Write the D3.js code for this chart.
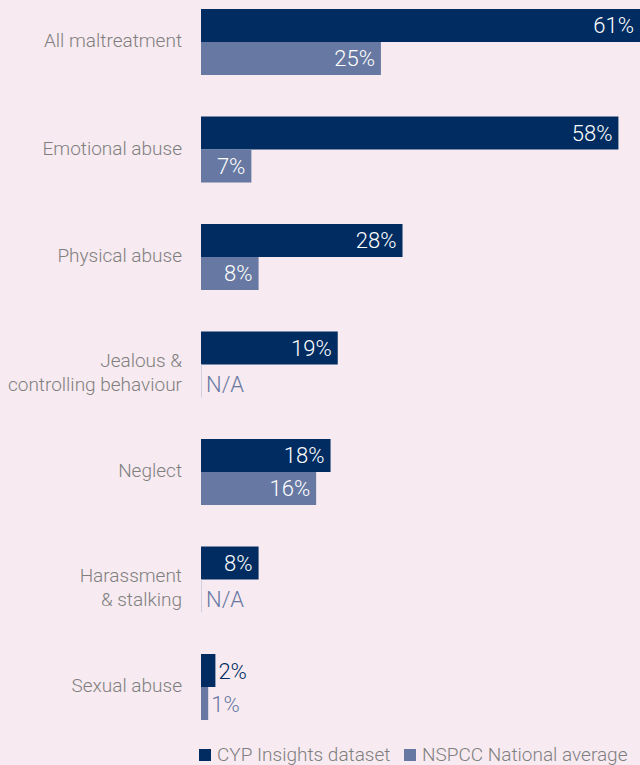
<!DOCTYPE html>
<html><head><meta charset="utf-8">
<script src="https://cdn.jsdelivr.net/npm/d3@7"></script>
<style>
html,body{margin:0;padding:0;background:#f7eaf0;}
svg{display:block;}
</style></head>
<body>
<script>
const categories = ["All maltreatment","Emotional abuse","Physical abuse","Jealous & controlling behaviour","Neglect","Harassment & stalking","Sexual abuse"];
const categoryLines = [["All maltreatment"],["Emotional abuse"],["Physical abuse"],["Jealous &","controlling behaviour"],["Neglect"],["Harassment","& stalking"],["Sexual abuse"]];
const cypValues = [61,58,28,19,18,8,2];
const nspccValues = [25,7,8,null,16,null,1];
const seriesNames = ["CYP Insights dataset","NSPCC National average"];
const colors = ["#002c61","#6779a2"];

const W=640,H=765;
const font = "Roboto,'Liberation Sans',sans-serif";
const svg=d3.select("body").append("svg").attr("width",W).attr("height",H);
svg.append("rect").attr("width",W).attr("height",H).attr("fill","#f7eaf0");

const x=d3.scaleLinear().domain([0,61]).range([201,640]);
const y=d3.scaleBand().domain(categories).range([9,720]).paddingInner(41.5/107.5).paddingOuter(0);
const inner=d3.scaleBand().domain([0,1]).range([0,y.bandwidth()]);

const g=svg.append("g");
categories.forEach((c,i)=>{
  const y0=y(c);
  const vals=[cypValues[i],nspccValues[i]];
  vals.forEach((v,j)=>{
    const by=y0+inner(j), bh=inner.bandwidth();
    if(v==null){
      g.append("line").attr("x1",x(0)+0.5).attr("x2",x(0)+0.5).attr("y1",by).attr("y2",by+bh)
        .attr("stroke","#cfd0e0").attr("stroke-width",1);
      g.append("text").attr("x",x(0)+5).attr("y",by+bh/2+3).attr("dy","0.36em")
        .attr("font-family",font).attr("font-weight",300).attr("font-size",22).attr("fill",colors[1]).text("N/A");
      return;
    }
    g.append("rect").attr("x",x(0)).attr("y",by).attr("width",x(v)-x(0)).attr("height",bh).attr("fill",colors[j]);
    const w=x(v)-x(0);
    const lab=v+"%";
    if(w>40){
      g.append("text").attr("x",x(v)-6).attr("y",by+bh/2).attr("dy","0.36em").attr("text-anchor","end")
        .attr("font-family",font).attr("font-weight",300).attr("font-size",22).attr("fill","#ffffff").text(lab);
    } else {
      g.append("text").attr("x",x(v)+3).attr("y",by+bh/2+1).attr("dy","0.36em")
        .attr("font-family",font).attr("font-weight",300).attr("font-size",22).attr("fill",colors[j]).text(lab);
    }
  });
  const lines=categoryLines[i];
  const cy=y0+y.bandwidth()/2;
  const offs = lines.length===1 ? [-1.5] : [-4.5,19.5];
  lines.forEach((l,k)=>{
    g.append("text").attr("x",182).attr("y",cy+offs[k]).attr("dy","0.36em")
      .attr("text-anchor","end").attr("font-family",font).attr("font-weight",300).attr("font-size",19).attr("fill","#7f7f7f").text(l);
  });
});

// legend
const leg=svg.append("g");
const lx=[199,404];
seriesNames.forEach((s,j)=>{
  leg.append("rect").attr("x",lx[j]).attr("y",749).attr("width",12).attr("height",12).attr("fill",colors[j]);
  leg.append("text").attr("x",lx[j]+18).attr("y",754.5).attr("dy","0.36em").attr("font-family",font).attr("font-weight",300)
    .attr("font-size",19).attr("fill","#7f7f7f").text(s);
});
</script>
</body></html>
